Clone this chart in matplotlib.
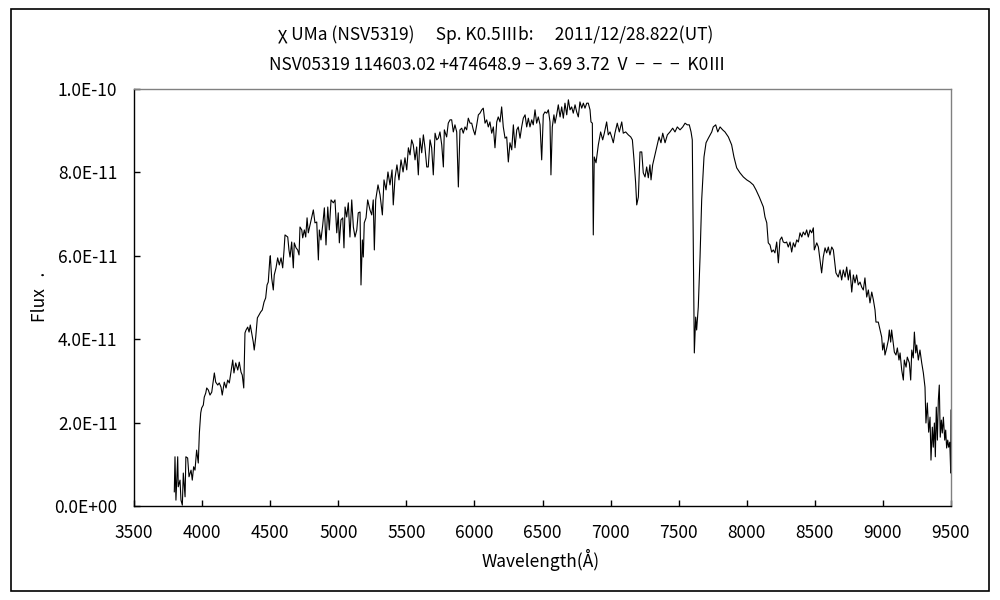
"""Spectrum of chi UMa, Excel-style line chart."""
import matplotlib
matplotlib.use("Agg")
import matplotlib.pyplot as plt
import numpy as np
from matplotlib.patches import Rectangle
from matplotlib.ticker import FuncFormatter, MultipleLocator

plt.rcParams['font.family'] = ['Noto Sans CJK JP', 'DejaVu Sans']

# Wavelength in Angstrom
wavelength = [
    3796, 3801, 3808, 3821, 3825, 3838, 3845, 3855, 3862, 3875, 3881, 3894,
    3904, 3919, 3928, 3938, 3948, 3960, 3972, 3980, 3990, 3997, 4009, 4016,
    4027, 4034, 4046, 4058, 4071, 4090, 4100, 4115, 4126, 4139, 4148, 4163,
    4176, 4188, 4200, 4212, 4225, 4234, 4247, 4262, 4273, 4286, 4295, 4306,
    4315, 4323, 4335, 4345, 4354, 4364, 4376, 4383, 4394, 4406, 4418, 4430,
    4442, 4455, 4467, 4477, 4486, 4497, 4501, 4511, 4523, 4530, 4543, 4555,
    4567, 4580, 4592, 4602, 4609, 4629, 4638, 4646, 4658, 4670, 4677, 4690,
    4702, 4712, 4719, 4732, 4739, 4751, 4761, 4771, 4780, 4793, 4805, 4817,
    4829, 4842, 4854, 4861, 4873, 4886, 4898, 4910, 4923, 4934, 4947, 4964,
    4976, 4989, 5000, 5008, 5020, 5033, 5042, 5050, 5062, 5074, 5086, 5099,
    5111, 5123, 5136, 5147, 5160, 5167, 5177, 5184, 5191, 5204, 5216, 5233,
    5246, 5257, 5265, 5275, 5292, 5307, 5324, 5336, 5351, 5365, 5380, 5395,
    5404, 5417, 5431, 5446, 5461, 5476, 5490, 5503, 5515, 5527, 5539, 5551,
    5564, 5576, 5588, 5600, 5613, 5625, 5637, 5650, 5661, 5674, 5686, 5698,
    5711, 5723, 5735, 5747, 5760, 5772, 5779, 5796, 5808, 5821, 5833, 5845,
    5857, 5870, 5882, 5894, 5907, 5918, 5931, 5943, 5955, 5968, 5980, 5992,
    6004, 6017, 6029, 6041, 6054, 6065, 6078, 6090, 6102, 6114, 6127, 6139,
    6151, 6164, 6175, 6188, 6200, 6212, 6225, 6237, 6249, 6261, 6274, 6286,
    6298, 6311, 6322, 6335, 6347, 6359, 6372, 6384, 6396, 6408, 6421, 6432,
    6445, 6457, 6469, 6482, 6494, 6506, 6518, 6531, 6543, 6555, 6562, 6572,
    6584, 6592, 6604, 6616, 6629, 6641, 6653, 6665, 6678, 6690, 6702, 6714,
    6726, 6739, 6751, 6763, 6775, 6788, 6800, 6812, 6825, 6836, 6849, 6856,
    6866, 6873, 6880, 6893, 6910, 6927, 6942, 6954, 6971, 6983, 6996, 7008,
    7020, 7032, 7049, 7064, 7082, 7093, 7111, 7130, 7148, 7160, 7172, 7184,
    7192, 7204, 7216, 7229, 7240, 7253, 7265, 7277, 7289, 7297, 7309, 7326,
    7343, 7356, 7370, 7383, 7400, 7417, 7436, 7456, 7473, 7490, 7510, 7530,
    7547, 7563, 7578, 7591, 7600, 7608, 7615, 7625, 7632, 7644, 7657, 7669,
    7686, 7701, 7718, 7743, 7754, 7772, 7787, 7804, 7823, 7840, 7865, 7889,
    7906, 7926, 7950, 7975, 8000, 8024, 8048, 8068, 8092, 8122, 8134, 8147,
    8158, 8171, 8183, 8195, 8207, 8220, 8232, 8244, 8257, 8268, 8281, 8293,
    8305, 8318, 8330, 8342, 8354, 8367, 8379, 8391, 8404, 8415, 8428, 8440,
    8452, 8465, 8477, 8489, 8496, 8514, 8526, 8538, 8550, 8562, 8575, 8587,
    8599, 8611, 8624, 8636, 8655, 8672, 8685, 8697, 8709, 8722, 8734, 8746,
    8758, 8771, 8783, 8795, 8807, 8819, 8832, 8844, 8856, 8868, 8881, 8893,
    8905, 8918, 8930, 8942, 8949, 8966, 8979, 8991, 8998, 9008, 9015, 9028,
    9040, 9047, 9057, 9064, 9076, 9084, 9096, 9106, 9118, 9126, 9138, 9150,
    9157, 9170, 9179, 9194, 9204, 9212, 9223, 9231, 9241, 9248, 9260, 9272,
    9285, 9297, 9309, 9316, 9326, 9336, 9346, 9353, 9363, 9370, 9378, 9385,
    9392, 9400, 9407, 9414, 9421, 9429, 9436, 9444, 9454, 9461, 9468, 9476,
    9483, 9491, 9498, 9500,
]

# Flux in units of 1e-11 (same order as wavelength)
flux_1e11 = [
    0.34, 1.18, 0.14, 1.18, 0.46, 0.62, 0.14, 0.02, 0.79, 0.22, 1.18, 1.15,
    0.70, 0.86, 0.62, 0.94, 0.86, 1.34, 1.03, 1.75, 2.23, 2.35, 2.42, 2.61,
    2.71, 2.83, 2.78, 2.66, 2.73, 3.19, 2.97, 2.90, 2.95, 2.85, 2.66, 2.97,
    2.83, 3.02, 2.95, 3.21, 3.50, 3.19, 3.43, 3.26, 3.45, 3.21, 3.14, 2.83,
    4.15, 4.22, 4.29, 4.17, 4.34, 4.15, 3.93, 3.74, 4.05, 4.51, 4.58, 4.65,
    4.70, 4.89, 4.99, 5.30, 5.37, 5.90, 6.00, 5.47, 5.18, 5.54, 5.71, 5.95,
    5.78, 5.95, 5.71, 6.14, 6.50, 6.45, 6.14, 5.97, 6.33, 5.71, 6.31, 6.19,
    6.14, 6.02, 6.69, 6.62, 6.43, 6.62, 6.45, 6.91, 6.55, 6.74, 6.91, 7.10,
    6.79, 6.81, 5.90, 6.62, 6.38, 6.74, 7.15, 6.26, 7.17, 6.62, 7.34, 7.27,
    7.34, 6.55, 7.03, 6.31, 6.86, 6.91, 6.19, 7.17, 6.93, 7.27, 6.45, 7.34,
    6.69, 6.45, 6.62, 7.03, 7.05, 5.30, 6.38, 5.97, 6.79, 6.91, 7.34, 7.10,
    6.98, 7.34, 6.14, 7.34, 7.70, 7.46, 6.98, 7.82, 7.58, 8.01, 7.70, 8.06,
    7.22, 7.87, 8.18, 7.82, 8.30, 8.01, 8.35, 8.06, 8.59, 8.42, 8.78, 8.66,
    8.30, 8.61, 7.94, 8.82, 8.47, 8.90, 8.59, 8.13, 8.13, 8.78, 8.59, 7.94,
    8.94, 8.78, 8.82, 8.97, 8.66, 8.13, 9.02, 8.85, 9.18, 9.26, 9.26, 8.97,
    9.14, 8.97, 7.65, 9.02, 9.06, 8.94, 9.09, 9.02, 9.30, 9.18, 9.18, 9.02,
    8.90, 9.14, 9.38, 9.42, 9.50, 9.54, 9.18, 9.26, 9.09, 9.21, 8.94, 9.09,
    8.59, 9.21, 9.33, 9.21, 9.57, 9.09, 8.82, 8.85, 8.25, 8.71, 8.54, 9.14,
    8.59, 9.02, 9.09, 8.82, 9.09, 9.30, 9.38, 9.09, 9.30, 9.09, 9.26, 9.14,
    9.50, 9.18, 9.33, 9.14, 8.30, 9.38, 9.45, 9.42, 9.50, 9.21, 7.94, 9.09,
    9.38, 9.18, 9.38, 9.62, 9.33, 9.57, 9.30, 9.66, 9.38, 9.74, 9.50, 9.57,
    9.42, 9.62, 9.45, 9.33, 9.69, 9.54, 9.66, 9.54, 9.66, 9.66, 9.50, 9.21,
    9.18, 6.50, 8.37, 8.23, 8.66, 8.97, 8.78, 8.94, 9.21, 8.90, 8.97, 8.85,
    8.71, 8.94, 9.18, 8.97, 9.21, 8.94, 8.97, 8.90, 8.85, 8.78, 8.30, 7.75,
    7.22, 7.41, 8.49, 8.49, 7.99, 7.89, 8.13, 7.87, 8.18, 7.82, 8.18, 8.42,
    8.66, 8.85, 8.71, 8.94, 8.71, 8.90, 8.97, 9.06, 8.97, 9.09, 9.02, 9.09,
    9.18, 9.14, 9.14, 8.97, 8.78, 6.14, 3.67, 4.53, 4.22, 4.77, 5.97, 7.34,
    8.37, 8.71, 8.82, 8.97, 9.09, 9.14, 8.97, 9.09, 9.02, 8.97, 8.85, 8.66,
    8.37, 8.11, 7.99, 7.89, 7.82, 7.77, 7.70, 7.58, 7.41, 7.17, 6.93, 6.79,
    6.31, 6.26, 6.09, 6.14, 6.07, 6.33, 5.83, 6.38, 6.45, 6.33, 6.31, 6.33,
    6.21, 6.33, 6.09, 6.31, 6.21, 6.38, 6.33, 6.55, 6.45, 6.57, 6.50, 6.62,
    6.45, 6.62, 6.55, 6.67, 6.14, 6.31, 6.21, 5.90, 5.59, 5.97, 6.19, 6.07,
    6.21, 6.02, 6.21, 6.14, 5.59, 5.49, 5.66, 5.42, 5.66, 5.49, 5.73, 5.42,
    5.66, 5.13, 5.54, 5.35, 5.54, 5.30, 5.37, 5.25, 5.18, 5.47, 5.01, 5.18,
    4.87, 5.13, 4.94, 4.70, 4.41, 4.41, 4.22, 4.05, 3.74, 3.91, 3.62, 3.79,
    3.98, 4.22, 3.93, 4.22, 3.91, 3.69, 3.62, 3.79, 3.50, 3.67, 3.26, 3.02,
    3.50, 3.33, 3.57, 3.43, 3.02, 3.74, 3.55, 4.17, 3.67, 3.86, 3.50, 3.74,
    3.43, 3.19, 2.85, 1.99, 2.47, 1.77, 2.13, 1.10, 1.89, 1.41, 1.99, 1.18,
    2.37, 1.58, 2.54, 2.90, 1.65, 2.06, 1.75, 2.13, 1.58, 1.82, 1.39, 1.58,
    1.41, 1.53, 0.79, 2.30,
]

title_line1 = "χ UMa (NSV5319)　 Sp. K0.5Ⅲb:　 2011/12/28.822(UT)"
title_line2 = "NSV05319 114603.02 +474648.9 − 3.69 3.72  V  −  −  −  K0Ⅲ"
FS = 12.5


def sci_label(v, pos):
    return f"{v:.1E}"


fig = plt.figure(figsize=(10, 6), dpi=100)
ax = fig.add_axes([0.134, 0.1567, 0.817, 0.695])

flux = np.array(flux_1e11) * 1e-11
ax.plot(wavelength, flux, color='black', linewidth=0.8)

ax.set_xlim(3500, 9500)
ax.set_ylim(0, 1e-10)
ax.xaxis.set_major_locator(MultipleLocator(500))
ax.yaxis.set_major_locator(MultipleLocator(2e-11))
ax.yaxis.set_major_formatter(FuncFormatter(sci_label))
ax.tick_params(direction='in', length=4, width=1, labelsize=FS, colors='black')
ax.tick_params(axis='x', pad=13)
ax.tick_params(axis='y', pad=12)

# Excel look: black left/bottom, gray top/right
for side in ('left', 'bottom'):
    ax.spines[side].set_color('black')
    ax.spines[side].set_linewidth(1.0)
for side in ('top', 'right'):
    ax.spines[side].set_color('#808080')
    ax.spines[side].set_linewidth(1.0)

# Titles and axis labels
fig.text(0.496, 0.942, title_line1, ha='center', va='center', fontsize=FS)
fig.text(0.497, 0.892, title_line2, ha='center', va='center', fontsize=FS)
fig.text(0.541, 0.066, "Wavelength(Å)", ha='center', va='center', fontsize=FS)
fig.text(0.040, 0.505, "Flux   .", ha='center', va='center', rotation=90, fontsize=FS)

# Outer chart border
fig.patches.append(Rectangle((0.011, 0.015), 0.978, 0.97, transform=fig.transFigure,
                             fill=False, edgecolor='black', linewidth=1.2))

fig.savefig("out.png", dpi=100, facecolor='white')
